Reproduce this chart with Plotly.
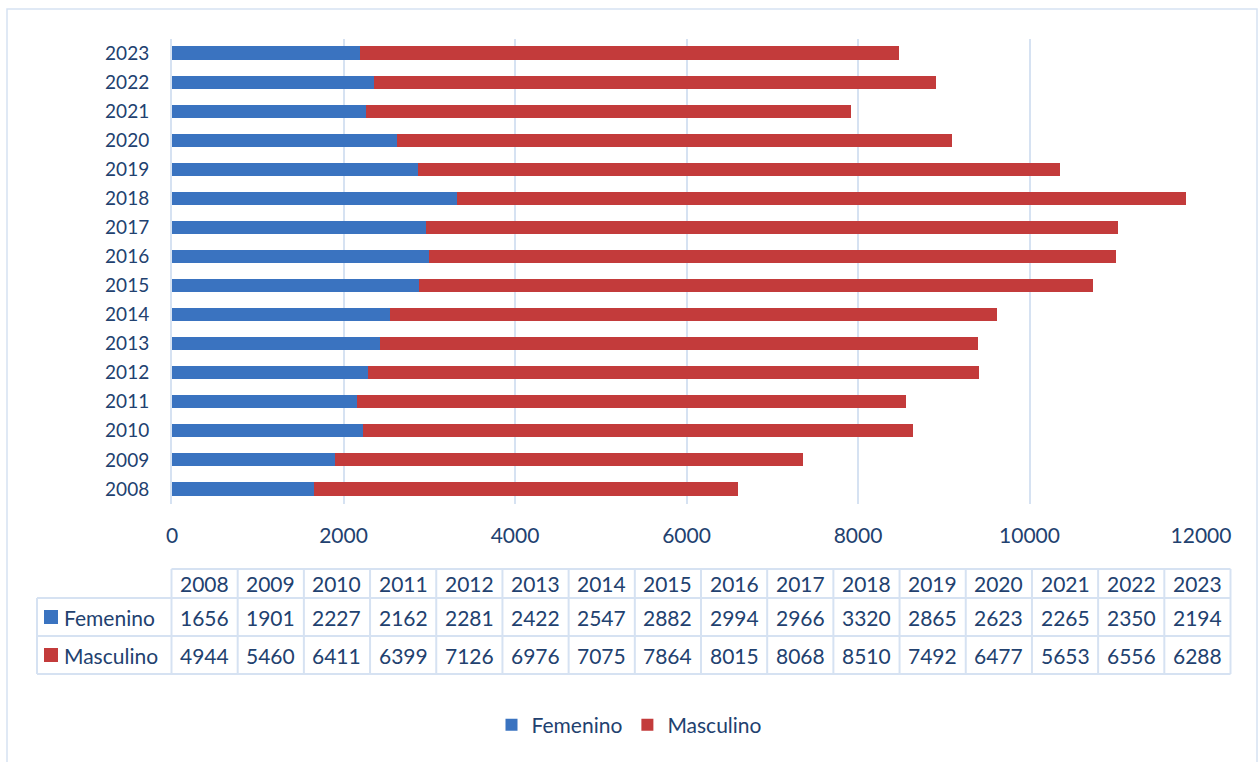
import plotly.graph_objects as go

years = ["2008", "2009", "2010", "2011", "2012", "2013", "2014", "2015",
         "2016", "2017", "2018", "2019", "2020", "2021", "2022", "2023"]
femenino = [1656, 1901, 2227, 2162, 2281, 2422, 2547, 2882, 2994, 2966, 3320, 2865, 2623, 2265, 2350, 2194]
masculino = [4944, 5460, 6411, 6399, 7126, 6976, 7075, 7864, 8015, 8068, 8510, 7492, 6477, 5653, 6556, 6288]
series_names = ["Femenino", "Masculino"]
x_ticks = [0, 2000, 4000, 6000, 8000, 10000, 12000]

W, H = 1259, 762
BLUE = "#3a73c0"
RED = "#c33b3b"
TXT = "#22416f"
GRID = "#d6e2f2"
FONT = "Lato"


def px(x):
    return x / W


def py(y):
    return 1 - y / H


fig = go.Figure()
fig.add_trace(go.Bar(y=years, x=femenino, name=series_names[0], orientation="h",
                     marker=dict(color=BLUE, line=dict(width=0))))
fig.add_trace(go.Bar(y=years, x=masculino, name=series_names[1], orientation="h",
                     marker=dict(color=RED, line=dict(width=0))))

shapes = []
annotations = []

# outer border
shapes.append(dict(type="rect", xref="paper", yref="paper",
                   x0=px(7), x1=px(1257), y0=py(9), y1=py(780),
                   line=dict(color=GRID, width=1.5), layer="below"))

# data table
col0_left = 37
col_left = 171.5
col_w = (1230.5 - 171.5) / len(years)
row_tops = [569, 598, 636, 674]
tbl_line = dict(color=GRID, width=2)
right = col_left + col_w * len(years)
shapes.append(dict(type="line", xref="paper", yref="paper", x0=px(col_left), x1=px(right),
                   y0=py(row_tops[0]), y1=py(row_tops[0]), line=tbl_line))
for r in row_tops[1:]:
    shapes.append(dict(type="line", xref="paper", yref="paper", x0=px(col0_left), x1=px(right),
                       y0=py(r), y1=py(r), line=tbl_line))
shapes.append(dict(type="line", xref="paper", yref="paper", x0=px(col0_left), x1=px(col0_left),
                   y0=py(row_tops[1]), y1=py(row_tops[3]), line=tbl_line))
for i in range(len(years) + 1):
    xx = col_left + i * col_w
    shapes.append(dict(type="line", xref="paper", yref="paper", x0=px(xx), x1=px(xx),
                       y0=py(row_tops[0]), y1=py(row_tops[3]), line=tbl_line))

rows = [years, femenino, masculino]
for ri, row in enumerate(rows):
    yc = (row_tops[ri] + row_tops[ri + 1]) / 2
    for ci, val in enumerate(row):
        annotations.append(dict(xref="paper", yref="paper", x=px(col_left + (ci + 0.5) * col_w), y=py(yc),
                                text=str(val), showarrow=False, xanchor="center", yanchor="middle",
                                font=dict(family=FONT, size=21, color=TXT)))

for k, (name, col) in enumerate(zip(series_names, [BLUE, RED])):
    yc = (row_tops[k + 1] + row_tops[k + 2]) / 2
    shapes.append(dict(type="rect", xref="paper", yref="paper",
                       x0=px(44), x1=px(58), y0=py(yc + 7), y1=py(yc - 7),
                       fillcolor=col, line=dict(width=0)))
    annotations.append(dict(xref="paper", yref="paper", x=px(62), y=py(yc), text=name,
                            showarrow=False, xanchor="left", yanchor="middle",
                            font=dict(family=FONT, size=21, color=TXT)))

fig.update_layout(
    width=W, height=H,
    margin=dict(l=0, r=0, t=0, b=0),
    paper_bgcolor="white", plot_bgcolor="white",
    barmode="stack",
    bargap=0.55,
    font=dict(family=FONT, color=TXT),
    shapes=shapes,
    annotations=annotations,
    legend=dict(orientation="h", x=0.5, xanchor="center", y=py(725), yanchor="middle",
                font=dict(family=FONT, size=21, color=TXT), itemwidth=30,
                traceorder="normal"),
    xaxis=dict(domain=[px(172), px(1201)], range=[0, 12000], tickvals=x_ticks,
               tickformat="d", automargin=False,
               showgrid=True, gridcolor=GRID, gridwidth=2, zeroline=False,
               showline=False, ticks="", ticklabelstandoff=17,
               tickfont=dict(family=FONT, size=21, color=TXT)),
    yaxis=dict(domain=[py(503.5), py(38.5)], type="category", categoryorder="array",
               categoryarray=years, showgrid=False, zeroline=False, automargin=False,
               showline=True, linecolor=GRID, linewidth=2, ticks="",
               ticklabelstandoff=17,
               tickfont=dict(family=FONT, size=19, color=TXT)),
)

fig.write_html("out.html", config={"displayModeBar": False},
               post_script="document.body.style.margin='0';document.body.style.overflow='hidden';")
